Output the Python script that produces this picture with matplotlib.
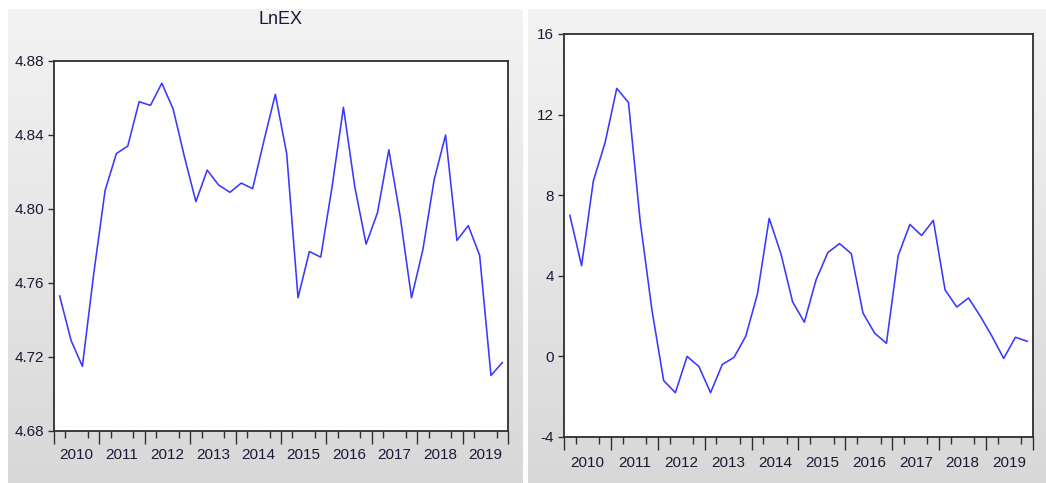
import numpy as np
import matplotlib
matplotlib.use("Agg")
import matplotlib.pyplot as plt
from matplotlib.ticker import FixedLocator, NullFormatter

# quarterly series, 2010Q1 .. 2019Q4
years = list(range(2010, 2020))
lnex = [4.753, 4.729, 4.715, 4.765, 4.810, 4.830, 4.834, 4.858,
        4.856, 4.868, 4.854, 4.828, 4.804, 4.821, 4.813, 4.809,
        4.814, 4.811, 4.837, 4.862, 4.830, 4.752, 4.777, 4.774,
        4.812, 4.855, 4.812, 4.781, 4.798, 4.832, 4.796, 4.752,
        4.778, 4.816, 4.840, 4.783, 4.791, 4.775, 4.710, 4.717]
growth = [7.0, 4.5, 8.7, 10.6, 13.3, 12.6, 6.7, 2.3,
          -1.2, -1.8, 0.0, -0.5, -1.8, -0.4, -0.05, 1.0,
          3.1, 6.85, 5.1, 2.7, 1.7, 3.8, 5.15, 5.6,
          5.1, 2.15, 1.15, 0.65, 5.0, 6.55, 6.0, 6.75,
          3.3, 2.45, 2.9, 2.0, 1.0, -0.1, 0.95, 0.75]
left_ticks = [4.68, 4.72, 4.76, 4.80, 4.84, 4.88]
right_ticks = [-4, 0, 4, 8, 12, 16]

W, H = 1046, 483
fig = plt.figure(figsize=(W / 100, H / 100), dpi=100)
fig.patch.set_facecolor("white")

FONT = ["Liberation Sans", "DejaVu Sans"]
TXT = "#1a1a36"
LINE = "#3838ff"

# grey gradient behind each panel
bg = fig.add_axes([0, 0, 1, 1], zorder=-10)
bg.set_xlim(0, W)
bg.set_ylim(H, 0)
bg.axis("off")
grad = np.linspace(0, 1, 256).reshape(-1, 1)
cmap = matplotlib.colors.LinearSegmentedColormap.from_list("g", ["#f3f3f3", "#d8d8d8"])
for x0, x1 in [(8, 523), (528, 1046)]:
    bg.imshow(grad, cmap=cmap, aspect="auto", extent=(x0, x1, H, 9), vmin=0, vmax=1)


def panel(rect, values, ticks, fmt, label_pad):
    ax = fig.add_axes(rect)
    n = len(values)
    x = np.arange(n) + 0.5
    ax.plot(x, values, color=LINE, lw=1.15)
    ax.set_xlim(0, n)
    ax.set_ylim(ticks[0], ticks[-1])
    ax.set_facecolor("white")
    for s in ax.spines.values():
        s.set_color("#2e2e2e")
        s.set_linewidth(1.3)

    ax.set_yticks(ticks)
    ax.set_yticklabels([fmt.format(t) for t in ticks], family=FONT, fontsize=11, color=TXT)
    ax.tick_params(axis="y", length=4, width=1, color="#303030", pad=3)

    # year labels in the middle of each year, quarter ticks below the axis
    ax.set_xticks([4 * i + 2 for i in range(len(years))])
    ax.set_xticklabels([str(y) for y in years], family=FONT, fontsize=11, color=TXT)
    ax.tick_params(axis="x", which="major", length=0, pad=label_pad)
    ax.xaxis.set_minor_locator(FixedLocator([i for i in range(n + 1) if i % 4]))
    ax.tick_params(axis="x", which="minor", length=5, width=1, color="#303030")

    sec = ax.secondary_xaxis("bottom")
    sec.set_xticks(range(0, n + 1, 4))
    sec.xaxis.set_major_formatter(NullFormatter())
    sec.tick_params(length=9, width=1, color="#303030")
    sec.spines["bottom"].set_visible(False)
    return ax


ax1 = panel([54 / W, 1 - 431 / H, 454 / W, 370 / H], lnex, left_ticks, "{:.2f}", 12)
fig.text(281 / W, 1 - 19 / H, "LnEX", ha="center", va="center",
         family=FONT, fontsize=13, color=TXT)

ax2 = panel([564 / W, 1 - 437 / H, 469 / W, 403 / H], growth, right_ticks, "{:d}", 14)

fig.savefig("out.png", dpi=100)
